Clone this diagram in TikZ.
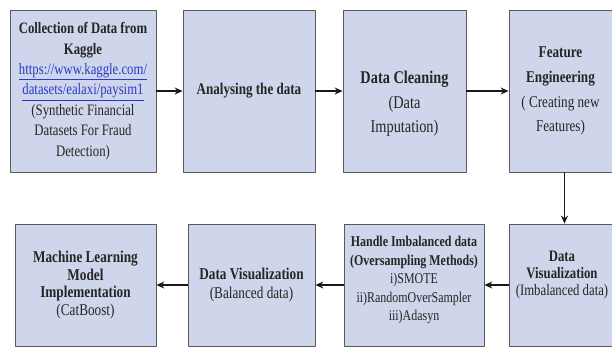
\documentclass[tikz,border=0pt]{standalone}
\usepackage{fontspec}
\setmainfont[FakeStretch=0.8]{Liberation Serif}
\usetikzlibrary{arrows.meta}
\definecolor{boxfill}{RGB}{207,213,234}
\definecolor{linkblue}{RGB}{40,60,200}
\newcommand{\linktext}[1]{\textcolor{linkblue}{\underline{#1}}}
\begin{document}
\begin{tikzpicture}[x=1bp, y=-1bp, line join=round, >={Stealth[length=8bp,width=7bp]},
	stage/.style={draw=black!65, line width=0.7bp, fill=boxfill, align=center, inner sep=0pt, text=black!85},
	flow/.style={->, line width=1.6bp, black!90}]
	\useasboundingbox (0,0) rectangle (612,347);
	% top row, left to right
	\node[stage, minimum width=146bp, minimum height=162bp, font=\fontsize{16}{20.5}\selectfont] (kaggle) at (83,91)
		{\textbf{Collection of Data from}\\ \textbf{Kaggle}\\ \linktext{https://www.kaggle.com/}\\ \linktext{datasets/ealaxi/paysim1}\\ (Synthetic Financial\\ Datasets For Fraud\\ Detection)};
	\node[stage, minimum width=132bp, minimum height=162bp, font=\fontsize{16.4}{20}\selectfont] (analyse) at (249,91)
		{\textbf{Analysing the data}};
	\node[stage, minimum width=123bp, minimum height=162bp] (clean) at (404.5,91) {};
	\node[font=\fontsize{18}{24.5}\selectfont, align=center, text=black!85] (cleantxt) at (404.5,104)
		{\textbf{Data Cleaning}\\ (Data\\ Imputation)};
	\node[stage, minimum width=103bp, minimum height=162bp, font=\fontsize{16.5}{25}\selectfont] (feature) at (560.5,91)
		{\textbf{Feature}\\ \textbf{Engineering}\\ ( Creating new\\ Features)};
	% bottom row, right to left
	\node[stage, minimum width=103bp, minimum height=122bp] (vizimb) at (560.5,285) {};
	\node[font=\fontsize{16}{17.5}\selectfont, align=center, text=black!85] (vizimbtxt) at (562,275)
		{\textbf{Data}\\ \textbf{Visualization}\\ (Imbalanced data)};
	\node[stage, minimum width=140bp, minimum height=122bp] (imbal) at (414,285) {};
	\node[font=\fontsize{15}{18.5}\selectfont, align=center, text=black!85] (imbaltxt) at (414,280)
		{\textbf{Handle Imbalanced data}\\ \textbf{(Oversampling Methods)}\\ i)SMOTE\\ ii)RandomOverSampler\\ iii)Adasyn};
	\node[stage, minimum width=127bp, minimum height=122bp, font=\fontsize{16.6}{20}\selectfont] (vizbal) at (251.5,285)
		{\textbf{Data Visualization}\\ (Balanced data)};
	\node[stage, minimum width=141bp, minimum height=122bp, font=\fontsize{16.6}{17.8}\selectfont] (model) at (85.5,285)
		{\textbf{Machine Learning}\\ \textbf{Model}\\ \textbf{Implementation}\\ (CatBoost)};
	% connectors
	\draw[flow] (kaggle) -- (analyse);
	\draw[flow] (analyse) -- (clean);
	\draw[flow] (clean) -- (feature);
	\draw[flow] ([xshift=4bp]feature.south) -- ([xshift=4bp]feature.south |- vizimb.north);
	\draw[flow] (vizimb) -- (imbal);
	\draw[flow] (imbal) -- (vizbal);
	\draw[flow] (vizbal) -- (model);
\end{tikzpicture}
\end{document}
